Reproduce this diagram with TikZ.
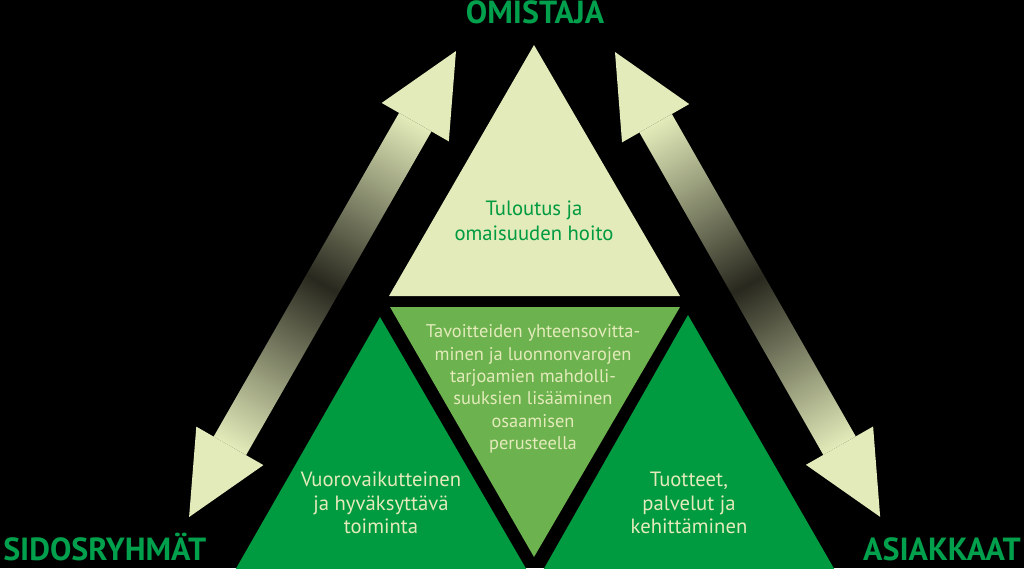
\documentclass[tikz,border=0pt]{standalone}
\usepackage{fontspec}
\setmainfont{PT Sans}
\usepackage{tikz}
\usetikzlibrary{shapes,arrows}
\definecolor{pale}{RGB}{227,235,186}
\definecolor{midgreen}{RGB}{108,178,78}
\definecolor{darkgreen}{RGB}{0,154,64}
\definecolor{labelgreen}{RGB}{0,160,76}
\definecolor{arrowdark}{RGB}{40,40,30}
\tikzstyle{corner} = [font=\fontsize{24}{28}\selectfont\bfseries, text=labelgreen, inner sep=0pt]
\tikzstyle{toptext} = [font=\fontsize{15.5}{18.4}\selectfont, text=darkgreen, align=center, inner sep=0pt]
\tikzstyle{midtext} = [font=\fontsize{13.8}{16.8}\selectfont, text=pale, align=center, inner sep=0pt]
\tikzstyle{lowtext} = [font=\fontsize{15.5}{17.6}\selectfont, text=pale, align=center, inner sep=0pt]
\tikzstyle{shaft} = [left color=pale, right color=pale, middle color=arrowdark]
\begin{document}
\begin{tikzpicture}[x=0.75pt, y=-0.75pt]
	\useasboundingbox (0,0) rectangle (1024,568);
	\fill[black] (0,0) rectangle (1024,568);
	\clip (0,0) rectangle (1024,568);
	% Triangles
	\fill[pale] (534,45) -- (680,296) -- (389,296) -- cycle;
	\fill[midgreen] (390,307) -- (680,307) -- (534,557) -- cycle;
	\fill[darkgreen] (380,317) -- (528,572) -- (234,572) -- cycle;
	\fill[darkgreen] (688,315) -- (836,572) -- (542,572) -- cycle;
	% Arrow ends
	\coordinate (leftup) at (456,51);
	\coordinate (leftdown) at (189,517);
	\coordinate (rightup) at (615,52);
	\coordinate (rightdown) at (880,517);
	% Arrows
	\begin{scope}[transform canvas={shift={(leftup)}, rotate=240.2}]
		\fill[pale] (0pt,0pt) -- (61.5pt,29pt) -- (61.5pt,-29pt) -- cycle;
		\shade[shaft] (61.5pt,-14pt) rectangle (341.3pt,14pt);
		\fill[pale] (402.8pt,0pt) -- (341.3pt,29pt) -- (341.3pt,-29pt) -- cycle;
	\end{scope}
	\begin{scope}[transform canvas={shift={(rightup)}, rotate=-60.3}]
		\fill[pale] (0pt,0pt) -- (61.5pt,29pt) -- (61.5pt,-29pt) -- cycle;
		\shade[shaft] (61.5pt,-14pt) rectangle (339.9pt,14pt);
		\fill[pale] (401.4pt,0pt) -- (339.9pt,29pt) -- (339.9pt,-29pt) -- cycle;
	\end{scope}
	% Place nodes
	\node [toptext] (tuloutus) at (534,221) {Tuloutus ja\\omaisuuden hoito};
	\node [midtext] (tavoitteet) at (533,389) {Tavoitteiden yhteensovitta-\\minen ja luonnonvarojen\\tarjoamien mahdolli-\\suuksien lisääminen\\osaamisen\\perusteella};
	\node [lowtext] (vuorovaikutus) at (381,503) {Vuorovaikutteinen\\ja hyväksyttävä\\toiminta};
	\node [lowtext] (tuotteet) at (689,503) {Tuotteet,\\palvelut ja\\kehittäminen};
	\node [corner, anchor=base] (omistaja) at (535,23) {OMISTAJA};
	\node [corner, anchor=base west] (sidos) at (3,560) {SIDOSRYHMÄT};
	\node [corner, anchor=base east] (asiakkaat) at (1021,560) {ASIAKKAAT};
\end{tikzpicture}
\end{document}
